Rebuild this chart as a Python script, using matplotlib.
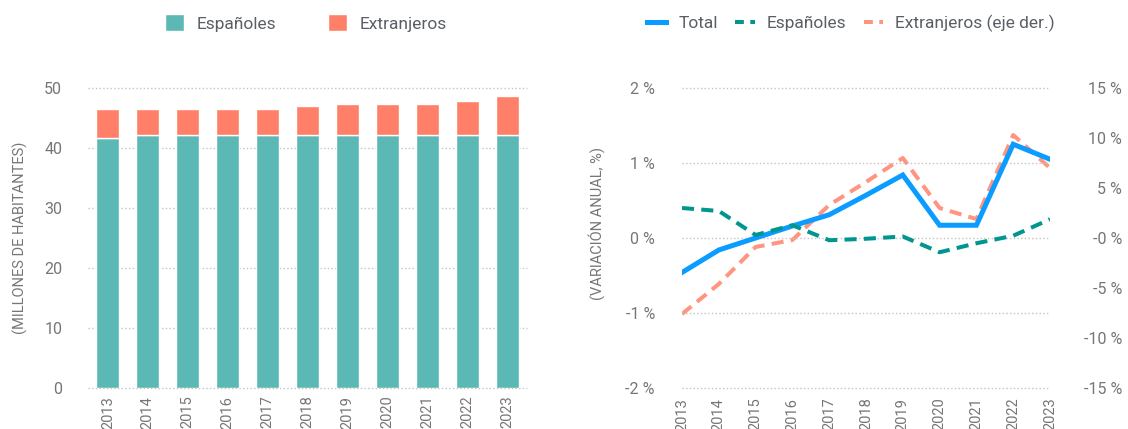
import matplotlib
matplotlib.use("Agg")
import matplotlib.pyplot as plt
from matplotlib.lines import Line2D
from matplotlib.patches import Patch

# datos (millones de habitantes y variación anual en %)
years = [2013, 2014, 2015, 2016, 2017, 2018, 2019, 2020, 2021, 2022, 2023]
espanoles = [41.75, 42.2, 42.2, 42.2, 42.2, 42.2, 42.2, 42.2, 42.2, 42.2, 42.2]
extranjeros = [4.8, 4.35, 4.35, 4.35, 4.35, 4.75, 5.2, 5.2, 5.2, 5.7, 6.55]

var_total = [-0.46, -0.16, 0.0, 0.16, 0.31, 0.57, 0.84, 0.17, 0.17, 1.25, 1.05]
var_espanoles = [0.40, 0.36, 0.04, 0.17, -0.03, -0.01, 0.02, -0.19, -0.07, 0.03, 0.25]
var_extranjeros = [-7.6, -4.6, -0.9, -0.2, 3.3, 5.6, 8.0, 3.0, 1.9, 10.3, 7.0]

left_ticks = [0, 10, 20, 30, 40, 50]
pct_ticks = [-2, -1, 0, 1, 2]
pct_labels = ["-2 %", "-1 %", "0 %", "1 %", "2 %"]
pct2_ticks = [-15, -10, -5, 0, 5, 10, 15]
pct2_labels = ["-15 %", "-10 %", "-5 %", "-0 %", "5 %", "10 %", "15 %"]

C_ESP = "#5bb8b5"
C_EXT = "#ff7f68"
C_TOTAL = "#0a9dff"
C_ESP_L = "#00968f"
C_EXT_L = "#ff9580"
C_TXT = "#767676"
C_LEG = "#5a5f66"
C_GRID = "#c4c4c4"

plt.rcParams["font.family"] = ["Roboto", "DejaVu Sans"]

W, H = 1128, 429
fig = plt.figure(figsize=(W / 100, H / 100), dpi=100)


def style(ax):
    for s in ax.spines.values():
        s.set_visible(False)
    ax.tick_params(length=0, colors=C_TXT)


# ---- barras ----
ax1 = fig.add_axes([88 / W, 1 - 388 / H, 439 / W, 300 / H])
style(ax1)
x = list(range(len(years)))
ax1.bar(x, espanoles, width=0.575, color=C_ESP, edgecolor="white", linewidth=1, zorder=3)
ax1.bar(x, extranjeros, bottom=espanoles, width=0.575, color=C_EXT,
        edgecolor="white", linewidth=1, zorder=3)
ax1.set_xlim(-0.5, 10.5)
ax1.set_ylim(0, 50)
ax1.set_yticks(left_ticks)
ax1.set_xticks(x)
ax1.set_xticklabels([str(y) for y in years], rotation=90, fontsize=10.5)
ax1.tick_params(axis="y", labelsize=11.5, pad=18.5)
ax1.tick_params(axis="x", pad=5.5)
ax1.grid(axis="y", color=C_GRID, linestyle=":", linewidth=1, clip_on=False)
ax1.set_axisbelow(True)
fig.text(20 / W, 1 - 238 / H, "(MILLONES DE HABITANTES)", rotation=90,
         ha="center", va="center", fontsize=10.5, color=C_TXT)

leg1 = [Patch(facecolor=C_ESP, edgecolor="white", label="Españoles"),
        Patch(facecolor=C_EXT, edgecolor="white", label="Extranjeros")]
fig.legend(handles=leg1, loc="center", bbox_to_anchor=(306 / W, 1 - 23 / H), ncol=2,
           frameon=False, fontsize=12.5, handlelength=1.1, handleheight=1.1,
           handletextpad=0.7, columnspacing=3.0, labelcolor=C_LEG)

# ---- variación anual ----
ax2 = fig.add_axes([682 / W, 1 - 388 / H, 368 / W, 300 / H])
ax3 = ax2.twinx()
style(ax2)
style(ax3)
ax3.plot(years, var_extranjeros, color=C_EXT_L, linewidth=2.9,
         linestyle=(0, (3, 1.8)), zorder=2)
ax2.plot(years, var_total, color=C_TOTAL, linewidth=3.6,
         solid_joinstyle="miter", zorder=3)
ax2.plot(years, var_espanoles, color=C_ESP_L, linewidth=2.9,
         linestyle=(0, (3, 1.8)), zorder=4)
ax2.set_zorder(ax3.get_zorder() + 1)
ax2.patch.set_visible(False)

ax2.set_xlim(years[0], years[-1])
ax2.set_ylim(-2, 2)
ax3.set_ylim(-15, 15)
ax2.set_xticks(years)
ax2.set_xticklabels([str(y) for y in years], rotation=90, fontsize=10.5)
ax2.set_yticks(pct_ticks)
ax2.set_yticklabels(pct_labels)
ax3.set_yticks(pct2_ticks)
ax3.set_yticklabels(pct2_labels, ha="right")
ax2.tick_params(axis="y", labelsize=11.5, pad=19.5)
ax2.tick_params(axis="x", pad=7)
ax3.tick_params(axis="y", labelsize=11.5, pad=52)
ax2.grid(axis="y", color=C_GRID, linestyle=":", linewidth=1, clip_on=False)
ax3.grid(False)
fig.text(597 / W, 1 - 224 / H, "(VARIACIÓN ANUAL, %)", rotation=90,
         ha="center", va="center", fontsize=10.5, color=C_TXT)

leg2 = [Line2D([], [], color=C_TOTAL, linewidth=3.6, label="Total"),
        Line2D([], [], color=C_ESP_L, linewidth=2.9, linestyle=(0, (2.2, 1.6)), label="Españoles"),
        Line2D([], [], color=C_EXT_L, linewidth=2.9, linestyle=(0, (2.2, 1.6)),
               label="Extranjeros (eje der.)")]
fig.legend(handles=leg2, loc="center", bbox_to_anchor=(851 / W, 1 - 23 / H), ncol=3,
           frameon=False, fontsize=12.5, handlelength=1.1, handletextpad=0.7,
           columnspacing=1.0, labelcolor=C_LEG)

fig.savefig("out.png", dpi=100)
